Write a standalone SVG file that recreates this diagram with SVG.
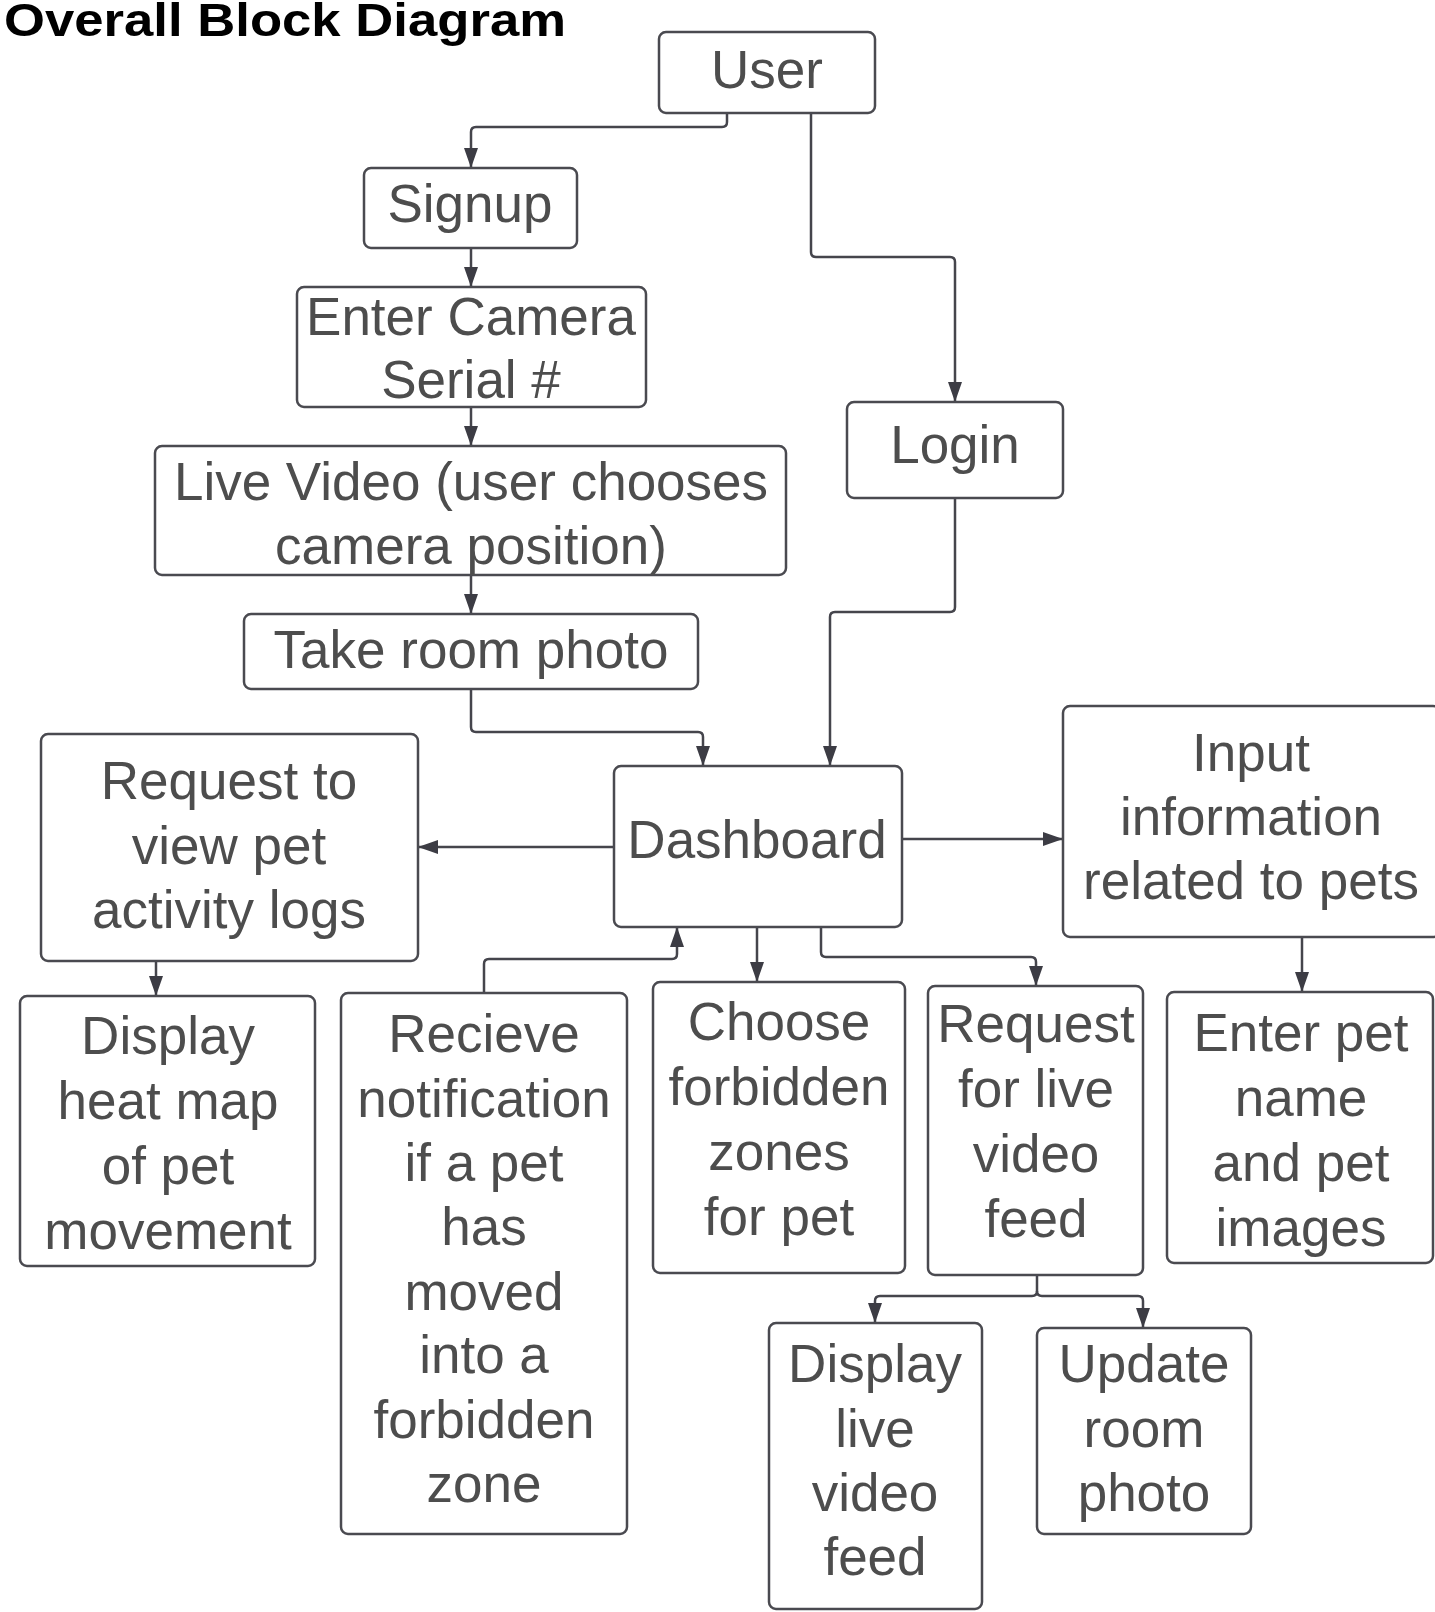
<svg xmlns="http://www.w3.org/2000/svg" width="1435" height="1612" viewBox="0 0 1435 1612">
<style>
.box{fill:#ffffff;stroke:#4a4a50;stroke-width:2.5}
.t{font-family:"Liberation Sans",Arial,sans-serif;font-size:53px;fill:#4d4d4d;text-anchor:middle}
.c{fill:none;stroke:#45454c;stroke-width:2.5}
.title{font-family:"Liberation Sans",Arial,sans-serif;font-size:47px;font-weight:bold;fill:#000000}
</style>
<defs>
<marker id="ah" markerWidth="20" markerHeight="14" refX="20" refY="7" orient="auto" markerUnits="userSpaceOnUse">
<path d="M0,0 L20,7 L0,14 Z" fill="#3c3c44"/>
</marker>
</defs>
<rect x="0" y="0" width="1435" height="1612" fill="#ffffff"/>
<text class="title" x="4" y="36" textLength="562" lengthAdjust="spacingAndGlyphs">Overall Block Diagram</text>

<g id="connectors">
<path class="c" marker-end="url(#ah)" d="M727,113 V122 Q727,127 722,127 H476 Q471,127 471,132 V168"/>
<path class="c" marker-end="url(#ah)" d="M811,113 V252 Q811,257 816,257 H950 Q955,257 955,262 V402"/>
<path class="c" marker-end="url(#ah)" d="M471,248 V287"/>
<path class="c" marker-end="url(#ah)" d="M471,407 V446"/>
<path class="c" marker-end="url(#ah)" d="M471,575 V614"/>
<path class="c" marker-end="url(#ah)" d="M471,689 V727 Q471,732 476,732 H698 Q703,732 703,737 V766"/>
<path class="c" marker-end="url(#ah)" d="M955,498 V607 Q955,612 950,612 H835 Q830,612 830,617 V766"/>
<path class="c" marker-end="url(#ah)" d="M614,847 H418"/>
<path class="c" marker-end="url(#ah)" d="M902,839 H1063"/>
<path class="c" marker-end="url(#ah)" d="M156,961 V996"/>
<path class="c" marker-end="url(#ah)" d="M484,993 V964 Q484,959 489,959 H672 Q677,959 677,954 V927"/>
<path class="c" marker-end="url(#ah)" d="M757,927 V982"/>
<path class="c" marker-end="url(#ah)" d="M821,927 V952 Q821,957 826,957 H1031 Q1036,957 1036,962 V986"/>
<path class="c" marker-end="url(#ah)" d="M1302,937 V992"/>
<path class="c" marker-end="url(#ah)" d="M1037,1275 V1291 Q1037,1296 1032,1296 H880 Q875,1296 875,1301 V1323"/>
<path class="c" marker-end="url(#ah)" d="M1037,1291 Q1037,1296 1042,1296 H1138 Q1143,1296 1143,1301 V1328"/>
</g>

<g id="user">
<rect class="box" x="659" y="32" width="216" height="81" rx="7"/>
<text class="t" x="767" y="88">User</text>
</g>
<g id="signup">
<rect class="box" x="364" y="168" width="213" height="80" rx="7"/>
<text class="t" x="470" y="222">Signup</text>
</g>
<g id="enter-camera">
<rect class="box" x="297" y="287" width="349" height="120" rx="7"/>
<text class="t" x="471" y="335">Enter Camera</text>
<text class="t" x="471" y="398">Serial #</text>
</g>
<g id="live-video">
<rect class="box" x="155" y="446" width="631" height="129" rx="7"/>
<text class="t" x="471" y="500">Live Video (user chooses</text>
<text class="t" x="471" y="564">camera position)</text>
</g>
<g id="take-room-photo">
<rect class="box" x="244" y="614" width="454" height="75" rx="7"/>
<text class="t" x="471" y="668">Take room photo</text>
</g>
<g id="login">
<rect class="box" x="847" y="402" width="216" height="96" rx="7"/>
<text class="t" x="955" y="463">Login</text>
</g>
<g id="dashboard">
<rect class="box" x="614" y="766" width="288" height="161" rx="7"/>
<text class="t" x="757" y="858">Dashboard</text>
</g>
<g id="input-info">
<rect class="box" x="1063" y="706" width="377" height="231" rx="7"/>
<text class="t" x="1251" y="771">Input</text>
<text class="t" x="1251" y="835">information</text>
<text class="t" x="1251" y="899">related to pets</text>
</g>
<g id="request-logs">
<rect class="box" x="41" y="734" width="377" height="227" rx="7"/>
<text class="t" x="229" y="799">Request to</text>
<text class="t" x="229" y="864">view pet</text>
<text class="t" x="229" y="928">activity logs</text>
</g>
<g id="heat-map">
<rect class="box" x="20" y="996" width="295" height="270" rx="7"/>
<text class="t" x="168" y="1054">Display</text>
<text class="t" x="168" y="1119">heat map</text>
<text class="t" x="168" y="1184">of pet</text>
<text class="t" x="168" y="1249">movement</text>
</g>
<g id="notification">
<rect class="box" x="341" y="993" width="286" height="541" rx="7"/>
<text class="t" x="484" y="1052">Recieve</text>
<text class="t" x="484" y="1117">notification</text>
<text class="t" x="484" y="1181">if a pet</text>
<text class="t" x="484" y="1245">has</text>
<text class="t" x="484" y="1310">moved</text>
<text class="t" x="484" y="1373">into a</text>
<text class="t" x="484" y="1438">forbidden</text>
<text class="t" x="484" y="1502">zone</text>
</g>
<g id="forbidden-zones">
<rect class="box" x="653" y="982" width="252" height="291" rx="7"/>
<text class="t" x="779" y="1040">Choose</text>
<text class="t" x="779" y="1105">forbidden</text>
<text class="t" x="779" y="1170">zones</text>
<text class="t" x="779" y="1235">for pet</text>
</g>
<g id="request-live">
<rect class="box" x="928" y="986" width="215" height="289" rx="7"/>
<text class="t" x="1036" y="1042">Request</text>
<text class="t" x="1036" y="1107">for live</text>
<text class="t" x="1036" y="1172">video</text>
<text class="t" x="1036" y="1237">feed</text>
</g>
<g id="enter-pet">
<rect class="box" x="1167" y="992" width="266" height="271" rx="7"/>
<text class="t" x="1301" y="1051">Enter pet</text>
<text class="t" x="1301" y="1116">name</text>
<text class="t" x="1301" y="1181">and pet</text>
<text class="t" x="1301" y="1246">images</text>
</g>
<g id="display-live">
<rect class="box" x="769" y="1323" width="213" height="286" rx="7"/>
<text class="t" x="875" y="1382">Display</text>
<text class="t" x="875" y="1447">live</text>
<text class="t" x="875" y="1511">video</text>
<text class="t" x="875" y="1575">feed</text>
</g>
<g id="update-room">
<rect class="box" x="1037" y="1328" width="214" height="206" rx="7"/>
<text class="t" x="1144" y="1382">Update</text>
<text class="t" x="1144" y="1447">room</text>
<text class="t" x="1144" y="1511">photo</text>
</g>
</svg>
